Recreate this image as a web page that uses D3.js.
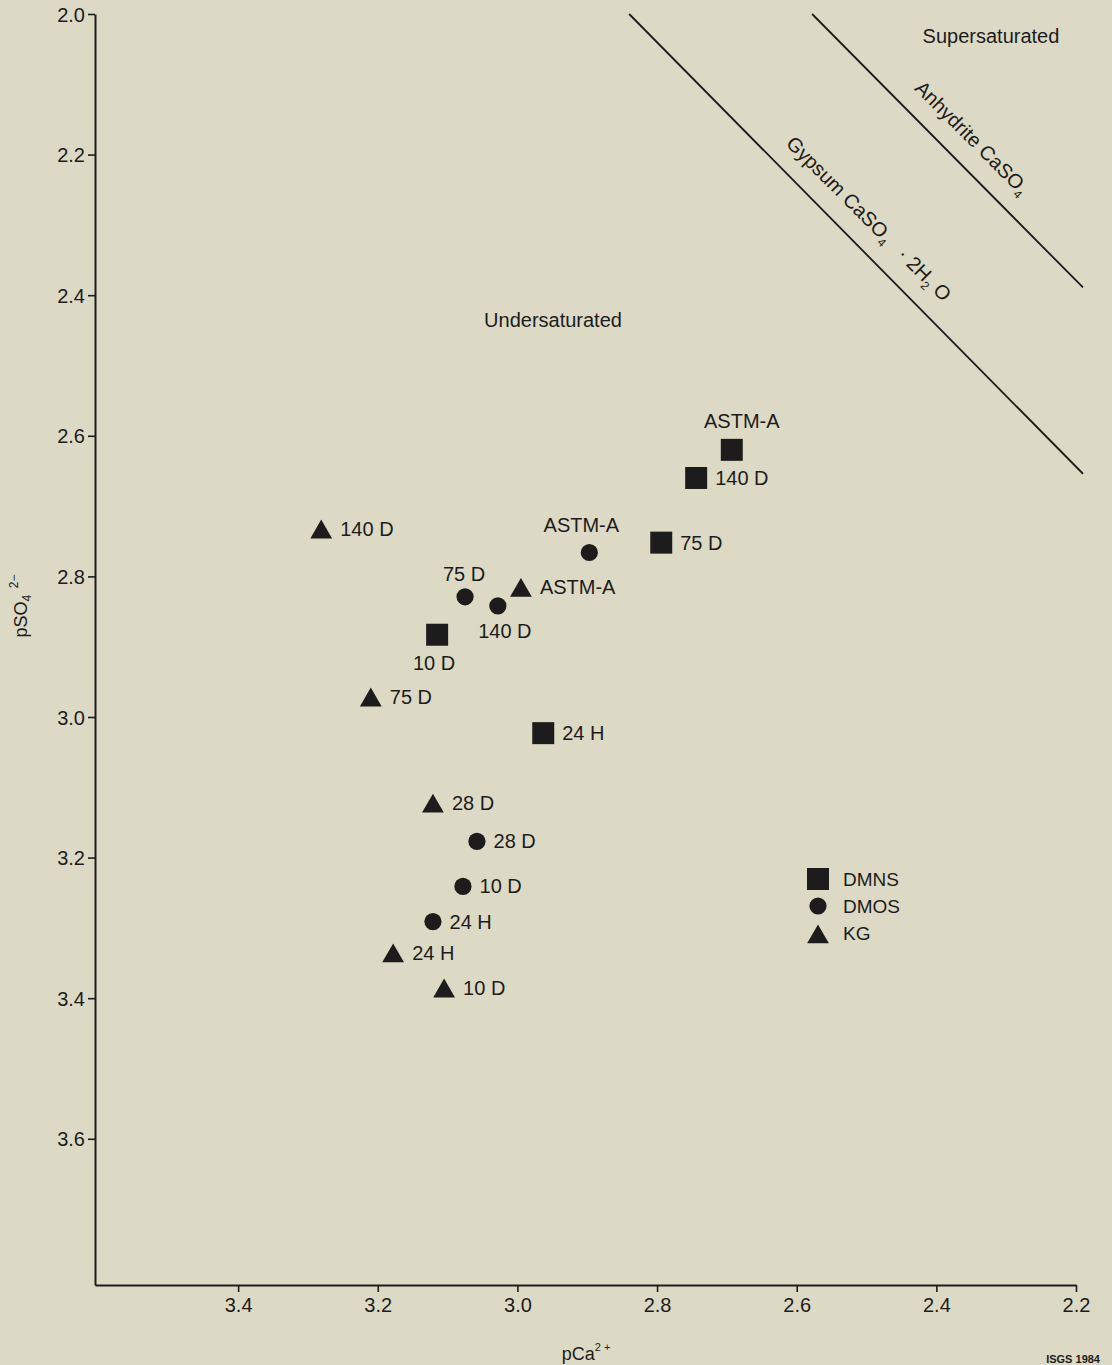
<!DOCTYPE html>
<html>
<head>
<meta charset="utf-8">
<script src="https://cdn.jsdelivr.net/npm/d3@7"></script>
<style>
  html, body { margin: 0; padding: 0; background: #dcdac5; }
  svg { display: block; }
  text { font-family: "Liberation Sans", Arial, Helvetica, sans-serif; fill: #1c1c1c; }
</style>
</head>
<body>
<svg id="chart" width="1112" height="1365"></svg>
<script>
// Sample series: pCa2+ (x) and pSO4 2- (y) for each leachate, labelled by age
const seriesNames = ["DMNS", "DMOS", "KG"];

const dmnsLabels = ["ASTM-A", "140 D", "75 D", "10 D", "24 H"];
const dmnsPCa    = [2.693, 2.744, 2.794, 3.115, 2.963];
const dmnsPSO4   = [2.620, 2.660, 2.752, 2.883, 3.023];

const dmosLabels = ["ASTM-A", "75 D", "140 D", "28 D", "10 D", "24 H"];
const dmosPCa    = [2.897, 3.075, 3.028, 3.058, 3.078, 3.121];
const dmosPSO4   = [2.766, 2.829, 2.842, 3.177, 3.241, 3.291];

const kgLabels   = ["140 D", "ASTM-A", "75 D", "28 D", "24 H", "10 D"];
const kgPCa      = [3.281, 2.995, 3.210, 3.121, 3.178, 3.105];
const kgPSO4     = [2.737, 2.820, 2.976, 3.127, 3.340, 3.390];

// Saturation lines (pCa, pSO4 end points)
const gypsumLine    = [[2.84, 2.00], [2.19, 2.654]];
const anhydriteLine = [[2.578, 2.00], [2.19, 2.389]];

// Axis ticks
const xTicks = [3.4, 3.2, 3.0, 2.8, 2.6, 2.4, 2.2];
const yTicks = [2.0, 2.2, 2.4, 2.6, 2.8, 3.0, 3.2, 3.4, 3.6];

// ---- layout ----
const svg = d3.select("#chart");
const ink = "#1c1c1c";

const x = d3.scaleLinear().domain([3.605, 2.2]).range([95, 1076]);
const y = d3.scaleLinear().domain([2.0, 3.808]).range([14, 1285]);

// axes
const yAxis = d3.axisLeft(y).tickValues(yTicks).tickFormat(d3.format(".1f"))
  .tickSize(7).tickPadding(3).tickSizeOuter(0);
const xAxis = d3.axisBottom(x).tickValues(xTicks).tickFormat(d3.format(".1f"))
  .tickSize(7).tickPadding(6).tickSizeOuter(0);

const gy = svg.append("g").attr("transform", `translate(${x.range()[0]},0)`).call(yAxis);
const gx = svg.append("g").attr("transform", `translate(0,${y.range()[1]})`).call(xAxis);
[gx, gy].forEach(g => {
  g.select(".domain").attr("stroke", ink).attr("stroke-width", 2);
  g.selectAll(".tick line").attr("stroke", ink).attr("stroke-width", 1.6);
  g.selectAll(".tick text").attr("fill", ink).style("font-size", "20px")
    .style("font-family", "'Liberation Sans', Arial, sans-serif");
});
gy.selectAll(".tick text").attr("dy", "0.36em");

// saturation lines
const line = d3.line().x(d => x(d[0])).y(d => y(d[1]));
svg.append("path").datum(gypsumLine).attr("d", line)
  .attr("fill", "none").attr("stroke", ink).attr("stroke-width", 1.8);
svg.append("path").datum(anhydriteLine).attr("d", line)
  .attr("fill", "none").attr("stroke", ink).attr("stroke-width", 1.8);

// rotated line labels
function lineLabel(pCa, pSO4, offset, build) {
  const g = svg.append("g")
    .attr("transform", `translate(${x(pCa)},${y(pSO4)}) rotate(45)`);
  const t = g.append("text").attr("x", 0).attr("y", -offset)
    .attr("text-anchor", "middle").style("font-size", "20px");
  build(t);
}
lineLabel(2.372, 2.199, 16, t => {
  t.append("tspan").text("Anhydrite CaSO");
  t.append("tspan").text("4").style("font-size", "12px").attr("dy", 5);
});
lineLabel(2.522, 2.316, 18, t => {
  t.append("tspan").text("Gypsum CaSO");
  t.append("tspan").text("4").style("font-size", "12px").attr("dy", 5);
  t.append("tspan").text("\u00a0\u00a0\u00a0·\u00a02H").attr("dy", -5);
  t.append("tspan").text("2").style("font-size", "12px").attr("dy", 5);
  t.append("tspan").text("\u00a0O").attr("dy", -5);
});

// region labels
svg.append("text").attr("x", 991).attr("y", 43).attr("text-anchor", "middle")
  .style("font-size", "20px").text("Supersaturated");
svg.append("text").attr("x", 553).attr("y", 327).attr("text-anchor", "middle")
  .style("font-size", "20px").text("Undersaturated");

// markers
const symbolOf = {
  DMNS: d3.symbol().type(d3.symbolSquare).size(22 * 22),
  DMOS: d3.symbol().type(d3.symbolCircle).size(Math.PI * 8.6 * 8.6),
  KG:   d3.symbol().type(d3.symbolTriangle).size(205)
};
const halfWidth = { DMNS: 11, DMOS: 8.6, KG: 11 };
const baseShift = { DMNS: 7, DMOS: 7, KG: 4 };

// labels that sit above or below their marker instead of to the right
const labelPlacement = {
  "DMNS|ASTM-A": { dx: 10, dy: -22 },
  "DMOS|ASTM-A": { dx: -8, dy: -20 },
  "DMOS|75 D":   { dx: -1, dy: -16 },
  "DMOS|140 D":  { dx: 7,  dy: 32 },
  "DMNS|10 D":   { dx: -3, dy: 35 }
};

const points = [];
dmnsLabels.forEach((l, i) => points.push({ s: "DMNS", label: l, pCa: dmnsPCa[i], pSO4: dmnsPSO4[i] }));
dmosLabels.forEach((l, i) => points.push({ s: "DMOS", label: l, pCa: dmosPCa[i], pSO4: dmosPSO4[i] }));
kgLabels.forEach((l, i) => points.push({ s: "KG", label: l, pCa: kgPCa[i], pSO4: kgPSO4[i] }));

const pg = svg.append("g");
pg.selectAll("path").data(points).join("path")
  .attr("transform", d => `translate(${x(d.pCa)},${y(d.pSO4)})`)
  .attr("d", d => symbolOf[d.s]())
  .attr("fill", ink);

pg.selectAll("text").data(points).join("text")
  .each(function (d) {
    const p = labelPlacement[d.s + "|" + d.label];
    const t = d3.select(this).style("font-size", "20px").text(d.label);
    if (p) {
      t.attr("x", x(d.pCa) + p.dx).attr("y", y(d.pSO4) + p.dy).attr("text-anchor", "middle");
    } else {
      t.attr("x", x(d.pCa) + halfWidth[d.s] + 8).attr("y", y(d.pSO4) + baseShift[d.s])
        .attr("text-anchor", "start");
    }
  });

// legend
const legend = svg.append("g").attr("transform", "translate(818,879)");
seriesNames.forEach((s, i) => {
  legend.append("path").attr("d", symbolOf[s]()).attr("fill", ink)
    .attr("transform", `translate(0,${i * 27 + (s === "KG" ? 4 : 0)})`);
  legend.append("text").attr("x", 25).attr("y", i * 27 + 7)
    .style("font-size", "19px").text(s);
});

// axis titles
const yt = svg.append("text").attr("transform", "translate(27,606) rotate(-90)")
  .attr("text-anchor", "middle").style("font-size", "18px");
yt.append("tspan").text("pSO");
yt.append("tspan").text("4").style("font-size", "12px").attr("dy", 4);
yt.append("tspan").text("\u00a0\u00a02\u2212").style("font-size", "12px").attr("dy", -13);

const xt = svg.append("text").attr("x", 586).attr("y", 1360)
  .attr("text-anchor", "middle").style("font-size", "18px");
xt.append("tspan").text("pCa");
xt.append("tspan").text("2\u00a0+").style("font-size", "11px").attr("dy", -9);

svg.append("text").attr("x", 1100).attr("y", 1363).attr("text-anchor", "end")
  .style("font-size", "11px").style("font-weight", "bold").text("ISGS 1984");
</script>
</body>
</html>
